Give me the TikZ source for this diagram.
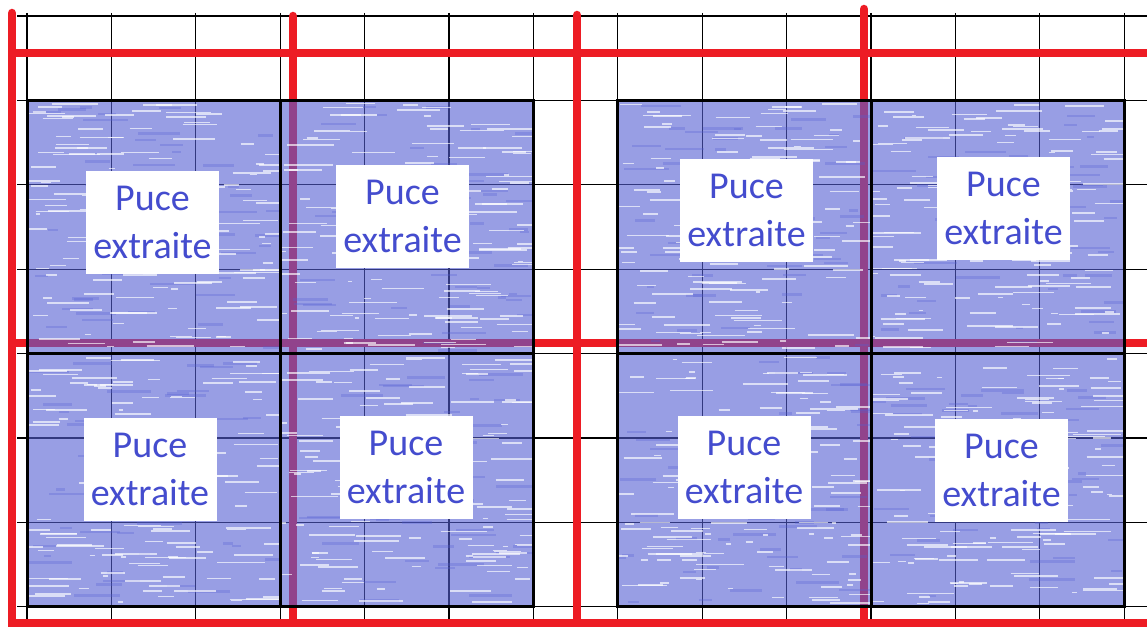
\documentclass[tikz,border=0pt]{standalone}
\usepackage{fontspec}
\setmainfont{Carlito}
\definecolor{cutred}{RGB}{237,28,36}
\definecolor{puceblue}{RGB}{68,76,206}
\definecolor{wafer}{RGB}{84,94,210}
\tikzset{
	gridline/.style={black, line width=1.1pt},
	cutline/.style={cutred, line width=8.5pt},
	chip/.style={fill=wafer, fill opacity=0.6},
	chipborder/.style={black, line width=3pt},
	streak/.style={white, opacity=0.65, line width=1.6pt},
	darkstreak/.style={wafer, opacity=0.3, line width=2.5pt},
	pucebox/.style={fill=white, text=puceblue, minimum width=133pt, minimum height=103pt, inner sep=0pt, align=center, font=\fontsize{38}{48}\selectfont},
}
\begin{document}
\begin{tikzpicture}[x=1pt,y=-1pt]
	\useasboundingbox (0,0) rectangle (1147,626);
	\pgfmathsetseed{42}
	
	\foreach \k in {0,...,13}
		\draw[gridline] ({27+\k*84.4},13) -- ({27+\k*84.4},626);
	\foreach \k in {0,...,7}
		\draw[gridline] (17,{16+\k*84.4}) -- (1147,{16+\k*84.4});
	
	\draw[cutline, line cap=round] (12,13) -- (12,640);
	\draw[cutline, line cap=round] (293,16) -- (293,640);
	\draw[cutline, line cap=round] (577,15) -- (577,640);
	\draw[cutline, line cap=round] (864,9) -- (864,640);
	\draw[cutline] (12,53) -- (1160,53);
	\draw[cutline] (12,343) -- (1160,343);
	\draw[cutline] (12,623) -- (1160,623);
	
	\foreach \sx in {27,280.2,617.8,871}
		\foreach \sy in {100.4,353.6} {
			\begin{scope}
				\clip (\sx,\sy) rectangle ++(253.2,253.2);
				\fill[chip] (\sx,\sy) rectangle ++(253.2,253.2);
				\foreach \i in {1,...,45} {
					\pgfmathsetmacro\rx{\sx+rnd*240}
					\pgfmathsetmacro\ry{\sy+3+rnd*247}
					\pgfmathsetmacro\rl{6+rnd*40}
					\draw[darkstreak] (\rx,\ry) -- ++(\rl,0);
				}
				\foreach \i in {1,...,130} {
					\pgfmathsetmacro\rx{\sx-10+rnd*250}
					\pgfmathsetmacro\ry{\sy+3+rnd*247}
					\pgfmathsetmacro\rl{4+rnd*45}
					\draw[streak] (\rx,\ry) -- ++(\rl,0);
				}
			\end{scope}
			\draw[chipborder] (\sx,\sy) rectangle ++(253.2,253.2);
		}
	
	\node[pucebox] (p1) at (152.5,222.5) {Puce\\extraite};
	\node[pucebox] (p2) at (402.5,216) {Puce\\extraite};
	\node[pucebox] (p3) at (746.5,210) {Puce\\extraite};
	\node[pucebox] (p4) at (1003.5,208.5) {Puce\\extraite};
	\node[pucebox] (p5) at (150,469) {Puce\\extraite};
	\node[pucebox] (p6) at (406,467) {Puce\\extraite};
	\node[pucebox] (p7) at (744,467) {Puce\\extraite};
	\node[pucebox] (p8) at (1001.5,470.5) {Puce\\extraite};
\end{tikzpicture}
\end{document}
